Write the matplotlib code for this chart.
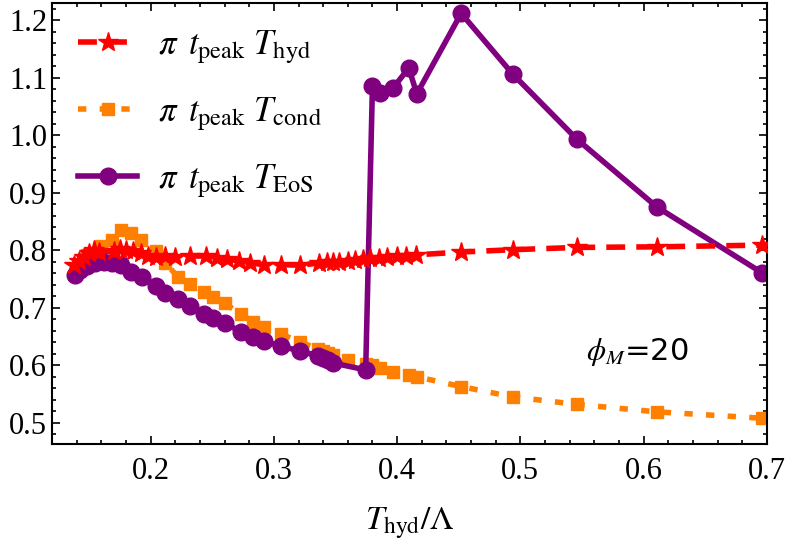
import matplotlib
matplotlib.use('Agg')
import matplotlib.pyplot as plt
from matplotlib.ticker import MultipleLocator

plt.rcParams['font.family'] = ['Liberation Serif', 'DejaVu Serif']
plt.rcParams['mathtext.fontset'] = 'stix'

# pi t_peak T_hyd (red stars)
x_hyd = [0.138, 0.142, 0.146, 0.150, 0.154, 0.158, 0.170, 0.175, 0.180, 0.186,
         0.192, 0.198, 0.204, 0.212, 0.220, 0.232, 0.245, 0.254, 0.262, 0.272,
         0.281, 0.292, 0.306, 0.321, 0.337, 0.343, 0.348, 0.353, 0.360, 0.366,
         0.372, 0.378, 0.385, 0.392, 0.400, 0.407, 0.415, 0.452, 0.494, 0.546,
         0.611, 0.696]
y_hyd = [0.775, 0.782, 0.788, 0.795, 0.800, 0.797, 0.799, 0.802, 0.800, 0.798,
         0.795, 0.790, 0.788, 0.790, 0.789, 0.790, 0.790, 0.787, 0.785, 0.781,
         0.778, 0.775, 0.775, 0.774, 0.778, 0.780, 0.779, 0.780, 0.782, 0.783,
         0.785, 0.786, 0.787, 0.789, 0.790, 0.790, 0.792, 0.797, 0.801, 0.805,
         0.806, 0.809]

# pi t_peak T_cond (orange squares)
x_cond = [0.148, 0.160, 0.169, 0.176, 0.184, 0.192, 0.204, 0.212, 0.222, 0.232,
          0.243, 0.251, 0.260, 0.273, 0.283, 0.292, 0.306, 0.321, 0.336, 0.340,
          0.344, 0.348, 0.360, 0.3745, 0.380, 0.386, 0.397, 0.4095, 0.416, 0.452,
          0.494, 0.546, 0.611, 0.696]
y_cond = [0.792, 0.808, 0.818, 0.836, 0.830, 0.818, 0.799, 0.778, 0.754, 0.741,
          0.728, 0.718, 0.708, 0.689, 0.676, 0.666, 0.654, 0.641, 0.628, 0.624,
          0.621, 0.618, 0.610, 0.603, 0.600, 0.595, 0.589, 0.584, 0.580, 0.563,
          0.545, 0.532, 0.519, 0.508]

# pi t_peak T_EoS (purple circles)
x_eos = [0.139, 0.143, 0.148, 0.155, 0.162, 0.169, 0.176, 0.184, 0.193, 0.204,
         0.212, 0.222, 0.232, 0.243, 0.251, 0.260, 0.273, 0.283, 0.292, 0.306,
         0.321, 0.336, 0.340, 0.344, 0.348, 0.3745, 0.380, 0.386, 0.397, 0.4095,
         0.416, 0.452, 0.494, 0.546, 0.611, 0.696]
y_eos = [0.757, 0.766, 0.772, 0.778, 0.780, 0.778, 0.774, 0.763, 0.754, 0.738,
         0.726, 0.715, 0.703, 0.690, 0.682, 0.674, 0.658, 0.650, 0.642, 0.633,
         0.625, 0.616, 0.612, 0.609, 0.604, 0.592, 1.086, 1.074, 1.083, 1.117,
         1.072, 1.212, 1.106, 0.993, 0.875, 0.761]

fig = plt.figure(figsize=(7.92, 5.48), dpi=100)
ax = fig.add_axes([0.0657, 0.189, 0.9025, 0.8055])

ax.plot(x_hyd, y_hyd, color='#ff0000', ls=(0, (3.4, 2.0)), lw=4,
        marker='*', ms=15, label=r'$\pi\ \,t_{\rm peak}\ T_{\rm hyd}$', zorder=3)
ax.plot(x_cond, y_cond, color='#ff8000', ls=(0, (1.5, 2.4)), lw=4,
        marker='s', ms=8, label=r'$\pi\ \,t_{\rm peak}\ T_{\rm cond}$', zorder=2)
ax.plot(x_eos, y_eos, color='#800080', ls='-', lw=4,
        marker='o', ms=12, label=r'$\pi\ \,t_{\rm peak}\ T_{\rm EoS}$', zorder=2.5)

ax.set_xlim(0.12, 0.7)
ax.set_ylim(0.4624, 1.23)
ax.xaxis.set_major_locator(MultipleLocator(0.1))
ax.xaxis.set_minor_locator(MultipleLocator(0.02))
ax.yaxis.set_major_locator(MultipleLocator(0.1))
ax.yaxis.set_minor_locator(MultipleLocator(0.02))
ax.set_xticks([0.2, 0.3, 0.4, 0.5, 0.6, 0.7])
ax.set_xticklabels(['0.2', '0.3', '0.4', '0.5', '0.6', '0.7'])
ax.tick_params(which='both', direction='in', top=True, right=True,
               labelsize=22, width=1.2)
ax.tick_params(axis='x', pad=9)
ax.tick_params(which='major', length=6)
ax.tick_params(which='minor', length=3)
for s in ax.spines.values():
    s.set_linewidth(1.5)

ax.set_xlabel(r'$T_{\rm hyd}/\Lambda$', fontsize=24, labelpad=14)

ax.text(0.553, 0.623, r'$\phi_M$=20', fontsize=22, family='DejaVu Sans',
        ha='left', va='center')

ax.legend(loc='upper left', fontsize=25, frameon=False, handlelength=1.7,
          labelspacing=0.85, borderaxespad=0.45, handletextpad=0.6,
          borderpad=0.3)

fig.savefig('out.png', dpi=100)
